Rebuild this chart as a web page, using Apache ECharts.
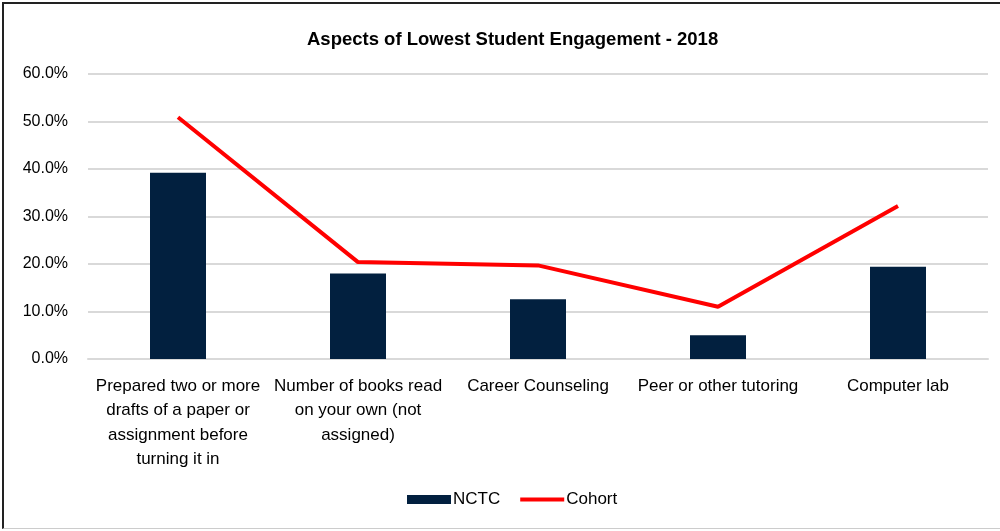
<!DOCTYPE html>
<html>
<head>
<meta charset="utf-8">
<script src="https://cdn.jsdelivr.net/npm/echarts@6/dist/echarts.min.js"></script>
<style>
  html, body { margin: 0; padding: 0; background: #fff; }
  #frame {
    position: absolute; left: 2px; top: 2px; width: 998px; height: 527px;
    border-top: 2px solid #222; border-left: 2px solid #222; border-bottom: 1px solid #ccc;
    box-sizing: border-box;
  }
  #chart { position: absolute; left: 0; top: 0; width: 1000px; height: 531px; }
</style>
</head>
<body>
<div id="frame"></div>
<div id="chart"></div>
<script>
const categories = [
  "Prepared two or more\ndrafts of a paper or\nassignment before\nturning it in",
  "Number of books read\non your own (not\nassigned)",
  "Career Counseling",
  "Peer or other tutoring",
  "Computer lab",
];
const nctc = [0.392, 0.180, 0.126, 0.050, 0.194];
const cohort = [0.509, 0.204, 0.197, 0.110, 0.322];

const font = "Liberation Sans";

const option = {
  animation: false,
  title: {
    text: "Aspects of Lowest Student Engagement - 2018",
    left: 302,
    top: 25,
    textStyle: { fontFamily: font, fontSize: 18.5, fontWeight: "bold", color: "#000" },
  },
  legend: {
    bottom: 18,
    left: 402,
    itemGap: 18,
    textStyle: { fontFamily: font, fontSize: 17, color: "#000", padding: [0, 0, 0, -3] },
    data: [
      { name: "NCTC", icon: "rect", itemStyle: { color: "#02203f" } },
      { name: "Cohort", itemStyle: { opacity: 0 }, lineStyle: { width: 4, color: "#ff0000" } },
    ],
    itemWidth: 44,
    itemHeight: 9,
  },
  grid: { left: 88, right: 12, top: 74, bottom: 172 },
  xAxis: {
    type: "category",
    data: categories,
    axisLine: { lineStyle: { color: "#d9d9d9", width: 2 } },
    axisTick: { show: false },
    axisLabel: {
      interval: 0,
      fontFamily: font,
      fontSize: 17,
      color: "#000",
      lineHeight: 24.5,
      margin: 15,
    },
  },
  yAxis: {
    type: "value",
    min: 0,
    max: 0.6,
    interval: 0.1,
    axisLine: { show: false },
    axisTick: { show: false },
    splitLine: { lineStyle: { color: "#d9d9d9", width: 2 } },
    axisLabel: {
      fontFamily: font,
      fontSize: 16,
      color: "#000",
      margin: 20,
      formatter: (v) => (v * 100).toFixed(1) + "%",
    },
  },
  series: [
    {
      name: "NCTC",
      type: "bar",
      data: nctc,
      barWidth: 56,
      itemStyle: { color: "#02203f" },
    },
    {
      name: "Cohort",
      type: "line",
      data: cohort,
      symbol: "none",
      lineStyle: { color: "#ff0000", width: 4 },
      itemStyle: { color: "#ff0000" },
    },
  ],
};

const chart = echarts.init(document.getElementById("chart"));
chart.setOption(option);
</script>
</body>
</html>
